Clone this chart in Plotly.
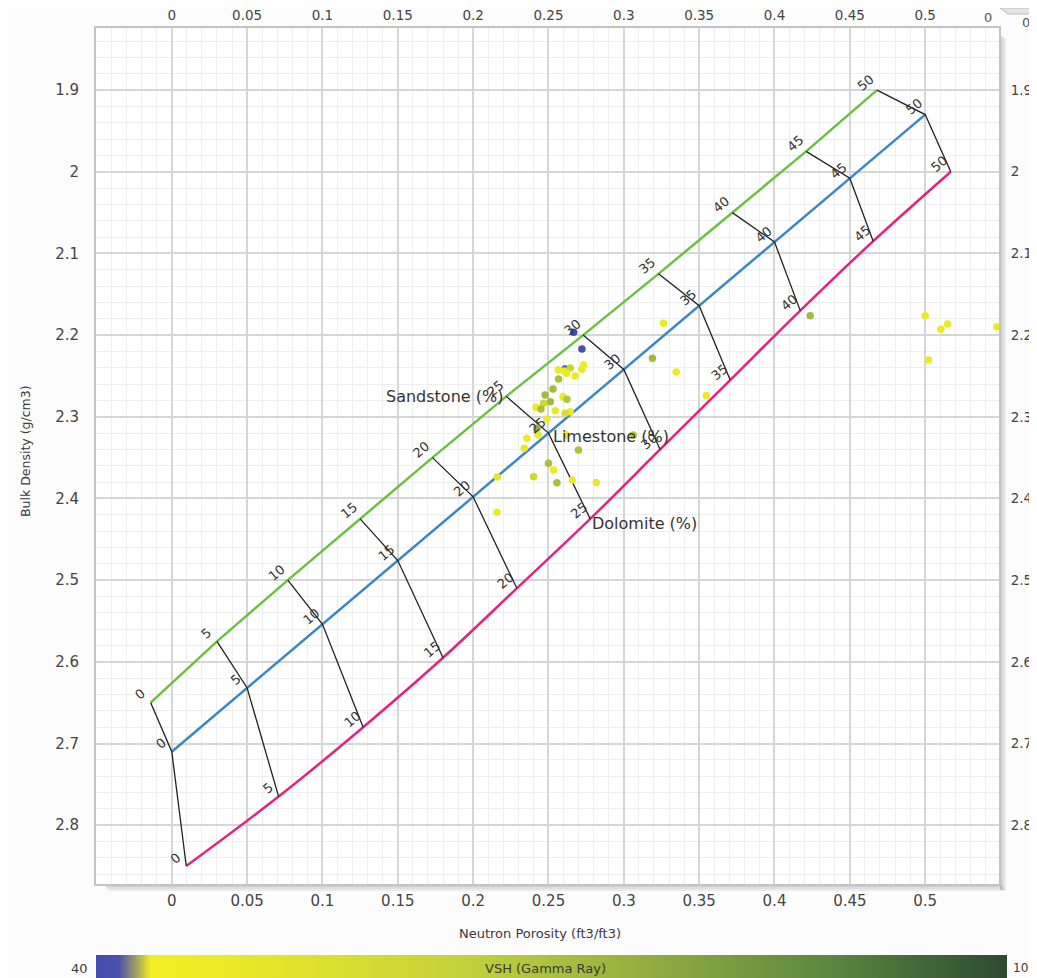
import plotly.graph_objects as go

# ---------------- data ----------------
porosity_labels = ["0", "5", "10", "15", "20", "25", "30", "35", "40", "45", "50"]

sand_nphi = [-0.014, 0.030, 0.077, 0.125, 0.173, 0.222, 0.273, 0.323, 0.372, 0.421, 0.468]
sand_rhob = [2.65, 2.575, 2.50, 2.425, 2.35, 2.275, 2.20, 2.125, 2.05, 1.975, 1.90]

lime_nphi = [0.0, 0.05, 0.10, 0.15, 0.20, 0.25, 0.30, 0.35, 0.40, 0.45, 0.50]
lime_rhob = [2.71, 2.632, 2.554, 2.476, 2.398, 2.32, 2.242, 2.164, 2.086, 2.008, 1.93]

dolo_nphi = [0.0096, 0.0709, 0.127, 0.180, 0.229, 0.2777, 0.3241, 0.3706, 0.4171, 0.4655, 0.517]
dolo_rhob = [2.85, 2.765, 2.68, 2.595, 2.51, 2.425, 2.34, 2.255, 2.17, 2.085, 2.00]

pt_nphi = [0.2667, 0.2722, 0.2611, 0.2565, 0.2604, 0.2644, 0.2622, 0.2677, 0.2722, 0.2733,
           0.2567, 0.2530, 0.2478, 0.2596, 0.2622, 0.2512, 0.2467, 0.2417, 0.2450, 0.2545,
           0.2644, 0.2611, 0.2490, 0.2423, 0.2432, 0.2357, 0.2339, 0.2699, 0.2500, 0.2534,
           0.2401, 0.2556, 0.2658, 0.2817, 0.2158, 0.2160, 0.3263, 0.3190, 0.3348, 0.3547,
           0.3062, 0.4237, 0.5000, 0.5148, 0.5104, 0.5476, 0.5022, 0.2618]
pt_rhob = [2.1966, 2.2170, 2.2415, 2.2427, 2.2439, 2.2403, 2.2468, 2.2501, 2.2419, 2.2366,
           2.2537, 2.2660, 2.2733, 2.2754, 2.2786, 2.2815, 2.2835, 2.2884, 2.2905, 2.2925,
           2.2938, 2.2957, 2.3027, 2.3141, 2.3223, 2.3263, 2.3386, 2.3406, 2.3569, 2.3651,
           2.3733, 2.3807, 2.3774, 2.3804, 2.4169, 2.3737, 2.1856, 2.2284, 2.2452, 2.2739,
           2.3223, 2.1763, 2.1763, 2.1864, 2.1929, 2.1897, 2.2305, 2.3223]
pt_vsh = [40, 41, 41, 48, 47, 62, 47, 49, 48, 47,
          70, 72, 72, 49, 68, 72, 60, 47, 70, 49,
          48, 56, 48, 76, 48, 47, 49, 70, 70, 48,
          60, 70, 48, 49, 48, 52, 49, 72, 48, 48,
          68, 72, 48, 48, 48, 48, 48, 48]

x_tickvals = [0, 0.05, 0.1, 0.15, 0.2, 0.25, 0.3, 0.35, 0.4, 0.45, 0.5]
x_ticktext = ["0", "0.05", "0.1", "0.15", "0.2", "0.25", "0.3", "0.35", "0.4", "0.45", "0.5"]
y_tickvals = [1.9, 2.0, 2.1, 2.2, 2.3, 2.4, 2.5, 2.6, 2.7, 2.8]
y_ticktext = ["1.9", "2", "2.1", "2.2", "2.3", "2.4", "2.5", "2.6", "2.7", "2.8"]

vsh_min, vsh_max = 40, 100

# ---------------- layout helpers ----------------
OFF = 8                      # page body margin of the html page
W, H = 1029, 970
L, T = 88, 20                # plot area starts at window pixel (96, 28)
PW, PH = 903, 856
R, B = W - L - PW, H - T - PH


def px(xw):
    """window pixel x -> paper x"""
    return (xw - OFF - L) / PW


def py(yw):
    """window pixel y -> paper y"""
    return (T + PH - (yw - OFF)) / PH


FONT = "DejaVu Sans"
TXT = "#3a3a3a"

colorscale = [
    [0.0, "#3f4db0"], [0.025, "#4a52a8"], [0.045, "#a4a460"], [0.06, "#f2ee22"],
    [0.15, "#ebe926"], [0.40, "#c4d23a"], [0.60, "#94ae40"], [0.80, "#5e8840"],
    [1.0, "#2d4a32"],
]

fig = go.Figure()

# lithology lines
fig.add_trace(go.Scatter(x=sand_nphi, y=sand_rhob, mode="lines",
                         line=dict(color="#6cc040", width=2.5), hoverinfo="skip", showlegend=False))
fig.add_trace(go.Scatter(x=lime_nphi, y=lime_rhob, mode="lines",
                         line=dict(color="#3a86c8", width=2.5), hoverinfo="skip", showlegend=False))
fig.add_trace(go.Scatter(x=dolo_nphi, y=dolo_rhob, mode="lines",
                         line=dict(color="#e2237f", width=2.5, shape="spline"), hoverinfo="skip",
                         showlegend=False))

# iso-porosity connectors
iso_x, iso_y = [], []
for i in range(len(porosity_labels)):
    iso_x += [sand_nphi[i], lime_nphi[i], dolo_nphi[i], None]
    iso_y += [sand_rhob[i], lime_rhob[i], dolo_rhob[i], None]
fig.add_trace(go.Scatter(x=iso_x, y=iso_y, mode="lines",
                         line=dict(color="#222222", width=1.3), hoverinfo="skip", showlegend=False))

# data points
fig.add_trace(go.Scatter(
    x=pt_nphi, y=pt_rhob, mode="markers",
    marker=dict(size=7.5, color=pt_vsh, colorscale=colorscale, cmin=vsh_min, cmax=vsh_max,
                line=dict(width=0),
                colorbar=dict(orientation="h", lenmode="pixels", len=911, thickness=26,
                              x=px(551.5), xanchor="center", y=py(955), yanchor="top",
                              xpad=0, ypad=0, outlinewidth=0, showticklabels=False, ticks="")),
    showlegend=False, hovertemplate="NPHI %{x}<br>RHOB %{y}<br>VSH %{marker.color}<extra></extra>"))

# invisible trace to activate the mirrored top/right axes
fig.add_trace(go.Scatter(x=lime_nphi, y=lime_rhob, xaxis="x2", yaxis="y2", mode="lines",
                         line=dict(width=0, color="rgba(0,0,0,0)"), hoverinfo="skip",
                         showlegend=False))

annotations = []
# porosity number labels
for series_x, series_y in ((sand_nphi, sand_rhob), (lime_nphi, lime_rhob), (dolo_nphi, dolo_rhob)):
    for i, lab in enumerate(porosity_labels):
        annotations.append(dict(x=series_x[i], y=series_y[i], xref="x", yref="y", text=lab,
                                showarrow=False, textangle=-40, xshift=-11, yshift=8,
                                font=dict(family=FONT, size=13, color="#333333")))

# lithology names
annotations.append(dict(x=sand_nphi[5], y=sand_rhob[5], text="Sandstone (%)", showarrow=False,
                        xanchor="right", yanchor="middle", xshift=-1,
                        font=dict(family=FONT, size=16, color="#333333")))
annotations.append(dict(x=lime_nphi[5], y=lime_rhob[5], text="Limestone (%)", showarrow=False,
                        xanchor="left", yanchor="middle", xshift=3, yshift=-3,
                        font=dict(family=FONT, size=16, color="#333333")))
annotations.append(dict(x=dolo_nphi[5], y=dolo_rhob[5], text="Dolomite (%)", showarrow=False,
                        xanchor="left", yanchor="middle", xshift=0, yshift=-5,
                        font=dict(family=FONT, size=16, color="#333333")))

# axis titles
annotations.append(dict(x=px(25), y=py(451), xref="paper", yref="paper", text="Bulk Density (g/cm3)",
                        textangle=-90, showarrow=False, xanchor="center", yanchor="middle",
                        font=dict(family=FONT, size=12.5, color=TXT)))
annotations.append(dict(x=px(540), y=py(933), xref="paper", yref="paper",
                        text="Neutron Porosity (ft3/ft3)", showarrow=False,
                        xanchor="center", yanchor="middle", font=dict(family=FONT, size=13, color=TXT)))

# colorbar texts
annotations.append(dict(x=px(90), y=py(968), xref="paper", yref="paper", text=str(vsh_min),
                        showarrow=False, xanchor="right", yanchor="middle",
                        font=dict(family=FONT, size=13, color=TXT)))
annotations.append(dict(x=px(1011), y=py(968), xref="paper", yref="paper", text=str(vsh_max),
                        showarrow=False, xanchor="left", yanchor="middle",
                        font=dict(family=FONT, size=12, color=TXT)))
annotations.append(dict(x=px(545), y=py(968), xref="paper", yref="paper", text="VSH (Gamma Ray)",
                        showarrow=False, xanchor="center", yanchor="middle",
                        font=dict(family=FONT, size=13, color=TXT)))

# stray top labels
annotations.append(dict(x=px(988), y=py(17), xref="paper", yref="paper", text="0",
                        showarrow=False, xanchor="center", yanchor="middle",
                        font=dict(family=FONT, size=13, color="#555")))
annotations.append(dict(x=px(1026), y=py(22), xref="paper", yref="paper", text="0",
                        showarrow=False, xanchor="center", yanchor="middle",
                        font=dict(family=FONT, size=13, color="#555")))

shapes = []
# drop shadow of plot frame
for k, op in enumerate([0.28, 0.18, 0.10]):
    shapes.append(dict(type="rect", xref="paper", yref="paper", layer="below",
                       x0=px(1000 + 2 * k), x1=px(1002 + 2 * k), y0=py(890), y1=py(36 + k),
                       line=dict(width=0), fillcolor=f"rgba(90,90,90,{op})"))
    shapes.append(dict(type="rect", xref="paper", yref="paper", layer="below",
                       x0=px(106 + k), x1=px(1002 + 2 * k), y0=py(885 + 2 * k), y1=py(887 + 2 * k),
                       line=dict(width=0), fillcolor=f"rgba(90,90,90,{op})"))
# small tab at top-right corner
shapes.append(dict(type="path", xref="paper", yref="paper", layer="below",
                   path=f"M {px(1000)},{py(8)} L {px(1037)},{py(8)} L {px(1037)},{py(14)} "
                        f"L {px(1008)},{py(14)} Z",
                   line=dict(width=1, color="#bdbdbd"), fillcolor="#e4e4e4"))

axis_common = dict(tickmode="array", showline=True, linecolor="#c4c4c4", linewidth=2,
                   zeroline=False, ticks="outside", tickcolor="rgba(0,0,0,0)", automargin=False)
tick_main = dict(family=FONT, size=15, color="#444444")
tick_small = dict(family=FONT, size=13.5, color="#444444")

fig.update_layout(
    width=W, height=H,
    margin=dict(l=L, r=R, t=T, b=B, autoexpand=False),
    paper_bgcolor="#fcfcfc", plot_bgcolor="white",
    font=dict(family=FONT, color=TXT),
    showlegend=False,
    xaxis=dict(range=[-0.0503, 0.549], tickvals=x_tickvals, ticktext=x_ticktext, ticklen=2,
               showgrid=True, gridcolor="#d6d6d6", gridwidth=1.5, mirror=True,
               minor=dict(tickmode="linear", tick0=0, dtick=0.01, showgrid=True,
                          gridcolor="#eeeeee", gridwidth=1, ticks=""),
               tickfont=tick_main, **axis_common),
    xaxis2=dict(overlaying="x", side="top", matches="x", anchor="y2", tickvals=x_tickvals,
                ticktext=x_ticktext, ticklen=1, showgrid=False, tickfont=tick_small, **axis_common),
    yaxis=dict(range=[2.872, 1.824], tickvals=y_tickvals, ticktext=y_ticktext, ticklen=12,
               showgrid=True, gridcolor="#d6d6d6", gridwidth=1.5, mirror=True,
               minor=dict(tickmode="linear", tick0=1.9, dtick=0.02, showgrid=True,
                          gridcolor="#eeeeee", gridwidth=1, ticks=""),
               tickfont=tick_main, **axis_common),
    yaxis2=dict(overlaying="y", side="right", matches="y", anchor="x2", tickvals=y_tickvals,
                ticktext=y_ticktext, ticklen=7, showgrid=False, tickfont=tick_small, **axis_common),
    annotations=annotations,
    shapes=shapes,
)

fig.write_html("out.html")
